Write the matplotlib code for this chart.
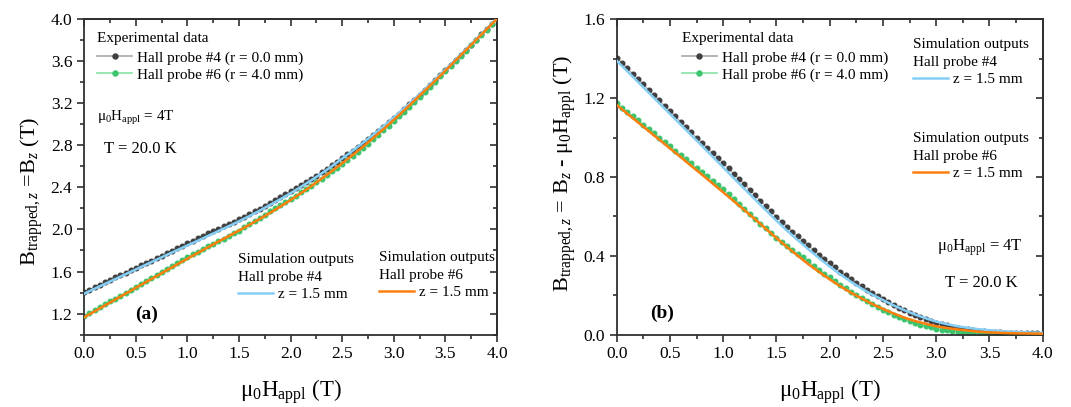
import numpy as np
import matplotlib
matplotlib.use("Agg")
import matplotlib.pyplot as plt
from matplotlib.lines import Line2D
from matplotlib.ticker import MultipleLocator

plt.rcParams['font.family'] = ['Liberation Serif', 'DejaVu Serif']
plt.rcParams['mathtext.fontset'] = 'custom'
plt.rcParams['mathtext.rm'] = 'Liberation Serif'
plt.rcParams['mathtext.it'] = 'Liberation Serif:italic'
plt.rcParams['mathtext.bf'] = 'Liberation Serif:bold'

# ---------------- data ----------------
# applied field (T), experimental sampling
field_exp = np.round(np.arange(0, 4.0001, 0.05), 2)
# B_trapped,z = Bz - mu0*Happl (T), Hall probe #4 (r = 0.0 mm)
probe4_exp = [1.405, 1.378, 1.351, 1.324, 1.297, 1.270, 1.243, 1.216, 1.189, 1.162,
              1.135, 1.108, 1.081, 1.054, 1.027, 1.000, 0.974, 0.948, 0.922, 0.896,
              0.870, 0.843, 0.816, 0.789, 0.762, 0.735, 0.707, 0.680, 0.652, 0.625,
              0.598, 0.573, 0.548, 0.523, 0.499, 0.475, 0.452, 0.429, 0.406, 0.384,
              0.362, 0.341, 0.320, 0.300, 0.281, 0.262, 0.245, 0.228, 0.211, 0.195,
              0.180, 0.165, 0.150, 0.136, 0.123, 0.110, 0.099, 0.088, 0.078, 0.069,
              0.060, 0.053, 0.046, 0.040, 0.035, 0.030, 0.026, 0.022, 0.019, 0.017,
              0.015, 0.013, 0.012, 0.010, 0.009, 0.008, 0.007, 0.007, 0.006, 0.006,
              0.005]
# Hall probe #6 (r = 4.0 mm)
probe6_exp = [1.174, 1.152, 1.130, 1.108, 1.087, 1.065, 1.043, 1.021, 0.999, 0.977,
              0.955, 0.933, 0.912, 0.890, 0.869, 0.847, 0.825, 0.803, 0.781, 0.759,
              0.737, 0.714, 0.690, 0.665, 0.639, 0.613, 0.588, 0.563, 0.539, 0.514,
              0.490, 0.469, 0.449, 0.429, 0.410, 0.392, 0.371, 0.350, 0.329, 0.309,
              0.290, 0.271, 0.253, 0.235, 0.217, 0.200, 0.184, 0.168, 0.153, 0.139,
              0.125, 0.113, 0.101, 0.089, 0.078, 0.068, 0.059, 0.051, 0.043, 0.036,
              0.030, 0.025, 0.021, 0.017, 0.014, 0.012, 0.010, 0.008, 0.007, 0.006,
              0.005, 0.004, 0.004, 0.003, 0.003, 0.003, 0.002, 0.002, 0.002, 0.002,
              0.002]

# simulation outputs (z = 1.5 mm)
field_sim = np.round(np.arange(0, 4.0001, 0.1), 2)
probe4_sim = [1.390, 1.336, 1.282, 1.228, 1.174, 1.120, 1.066, 1.012, 0.958, 0.903,
              0.848, 0.793, 0.739, 0.685, 0.631, 0.578, 0.527, 0.479, 0.433, 0.388,
              0.345, 0.305, 0.268, 0.233, 0.202, 0.175, 0.148, 0.124, 0.102, 0.083,
              0.066, 0.053, 0.042, 0.034, 0.027, 0.022, 0.018, 0.015, 0.012, 0.010,
              0.009]
probe6_sim = [1.165, 1.121, 1.077, 1.033, 0.989, 0.945, 0.901, 0.856, 0.812, 0.767,
              0.722, 0.677, 0.631, 0.585, 0.537, 0.490, 0.444, 0.400, 0.357, 0.318,
              0.280, 0.245, 0.212, 0.183, 0.155, 0.130, 0.107, 0.086, 0.069, 0.055,
              0.042, 0.033, 0.026, 0.020, 0.014, 0.011, 0.009, 0.007, 0.006, 0.005,
              0.004]

x_ticks = [0.0, 0.5, 1.0, 1.5, 2.0, 2.5, 3.0, 3.5, 4.0]
ya_ticks = [1.2, 1.6, 2.0, 2.4, 2.8, 3.2, 3.6, 4.0]
yb_ticks = [0.0, 0.4, 0.8, 1.2, 1.6]

# panel (a): total field Bz = trapped + applied
p4e_a = np.array(probe4_exp) + field_exp
p6e_a = np.array(probe6_exp) + field_exp
p4s_a = np.array(probe4_sim) + field_sim
p6s_a = np.array(probe6_sim) + field_sim

# ---------------- style ----------------
C_GRAY_M = '#404040'
C_GRAY_L = '#a8a8a8'
C_GREEN_M = '#3cc46c'
C_GREEN_L = '#86e3a6'
C_BLUE = '#85cff7'
C_ORANGE = '#ff7f0e'
FS = 11
AX_COL = '#303030'

fig = plt.figure(figsize=(10.71, 4.07), dpi=100)
axa = fig.add_axes([0.0787, 0.178, 0.3853, 0.7746])
axb = fig.add_axes([0.5758, 0.178, 0.3978, 0.7746])


def style_axes(ax, yticks, ylim, yminor):
    ax.set_xlim(0, 4.0)
    ax.set_ylim(*ylim)
    ax.set_xticks(x_ticks)
    ax.set_xticklabels([f'{t:.1f}' for t in x_ticks])
    ax.set_yticks(yticks)
    ax.set_yticklabels([f'{t:.1f}' for t in yticks])
    ax.xaxis.set_minor_locator(MultipleLocator(0.25))
    ax.yaxis.set_minor_locator(MultipleLocator(yminor))
    for s in ax.spines.values():
        s.set_linewidth(1.3)
        s.set_color(AX_COL)
    ax.tick_params(which='major', direction='out', length=5, width=1.2, labelsize=12.5,
                   colors=AX_COL, labelcolor='black')
    ax.tick_params(which='minor', direction='out', length=3, width=1.2, colors=AX_COL)
    sx = ax.secondary_xaxis('top')
    sx.set_xticks(x_ticks)
    sx.xaxis.set_minor_locator(MultipleLocator(0.25))
    sx.tick_params(which='major', direction='in', length=5, width=1.2, labeltop=False, colors=AX_COL)
    sx.tick_params(which='minor', direction='in', length=3, width=1.2, colors=AX_COL)
    sx.spines['top'].set_linewidth(1.3)
    sx.spines['top'].set_color(AX_COL)
    sy = ax.secondary_yaxis('right')
    sy.set_yticks(yticks)
    sy.yaxis.set_minor_locator(MultipleLocator(yminor))
    sy.tick_params(which='major', direction='in', length=5, width=1.2, labelright=False, colors=AX_COL)
    sy.tick_params(which='minor', direction='in', length=3, width=1.2, colors=AX_COL)
    sy.spines['right'].set_linewidth(1.3)
    sy.spines['right'].set_color(AX_COL)
    ax.set_xlabel('μ$_0$H$_{\\mathrm{appl}}$ (T)', fontsize=16.5, labelpad=11)


def draw(ax, e4, e6, s4, s6):
    ax.plot(field_exp, e4, '-', color=C_GRAY_L, lw=0.8, marker='o', ms=3.3,
            mfc=C_GRAY_M, mec=C_GRAY_M, zorder=2)
    ax.plot(field_exp, e6, '-', color=C_GREEN_L, lw=0.8, marker='o', ms=3.3,
            mfc=C_GREEN_M, mec=C_GREEN_M, zorder=2)
    ax.plot(field_sim, s4, '-', color=C_BLUE, lw=1.8, zorder=3)
    ax.plot(field_sim, s6, '-', color=C_ORANGE, lw=1.8, zorder=3)


def legends(ax, exp_xy, sim1_xy, sim2_xy):
    h_e4 = Line2D([], [], color=C_GRAY_L, lw=1.2, marker='o', ms=3.6, mfc=C_GRAY_M, mec=C_GRAY_M)
    h_e6 = Line2D([], [], color=C_GREEN_L, lw=1.2, marker='o', ms=3.6, mfc=C_GREEN_M, mec=C_GREEN_M)
    h_s4 = Line2D([], [], color=C_BLUE, lw=1.8)
    h_s6 = Line2D([], [], color=C_ORANGE, lw=1.8)
    common = dict(frameon=False, fontsize=FS, title_fontsize=FS, alignment='left',
                  borderpad=0, borderaxespad=0, handlelength=2.3, handletextpad=0.33,
                  labelspacing=0.2, loc='upper left')
    l1 = ax.legend([h_e4, h_e6], ['Hall probe #4 (r = 0.0 mm)', 'Hall probe #6 (r = 4.0 mm)'],
                   title='Experimental data', bbox_to_anchor=exp_xy, **common)
    l1._legend_box.sep = 0.4 * FS
    ax.add_artist(l1)
    l2 = ax.legend([h_s4], ['z = 1.5 mm'], title='Simulation outputs\nHall probe #4',
                   bbox_to_anchor=sim1_xy, **common)
    l2.get_title().set_linespacing(1.55)
    ax.add_artist(l2)
    l3 = ax.legend([h_s6], ['z = 1.5 mm'], title='Simulation outputs\nHall probe #6',
                   bbox_to_anchor=sim2_xy, **common)
    l3.get_title().set_linespacing(1.55)


# panel (a)
draw(axa, p4e_a, p6e_a, p4s_a, p6s_a)
style_axes(axa, ya_ticks, (1.0, 4.0), 0.2)
axa.set_ylabel('B$_{\\mathrm{trapped},z}$ =B$_z$ (T)', fontsize=16, labelpad=4)
axa.yaxis.label.set_y(0.455)
legends(axa, (0.031, 0.960), (0.372, 0.259), (0.714, 0.266))
axa.text(0.031, 0.687, 'μ$_0$H$_{\\mathrm{appl}}$ = 4T', transform=axa.transAxes,
         fontsize=10.8, va='center', ha='left')
axa.text(0.048, 0.589, 'T = 20.0 K', transform=axa.transAxes, fontsize=12, va='center', ha='left')
axa.text(0.123, 0.065, '(a)', transform=axa.transAxes, fontsize=14, fontweight='bold',
         va='center', ha='left')

# panel (b)
draw(axb, probe4_exp, probe6_exp, probe4_sim, probe6_sim)
style_axes(axb, yb_ticks, (0.0, 1.6), 0.2)
axb.set_ylabel('B$_{\\mathrm{trapped},z}$ = B$_z$ - μ$_0$H$_{\\mathrm{appl}}$ (T)', fontsize=16, labelpad=4)
axb.yaxis.label.set_y(0.512)
legends(axb, (0.153, 0.960), (0.696, 0.941), (0.696, 0.643))
axb.text(0.752, 0.274, 'μ$_0$H$_{\\mathrm{appl}}$ = 4T', transform=axb.transAxes,
         fontsize=12, va='center', ha='left')
axb.text(0.771, 0.163, 'T = 20.0 K', transform=axb.transAxes, fontsize=12, va='center', ha='left')
axb.text(0.078, 0.068, '(b)', transform=axb.transAxes, fontsize=14, fontweight='bold',
         va='center', ha='left')

fig.savefig('out.png', dpi=100)
